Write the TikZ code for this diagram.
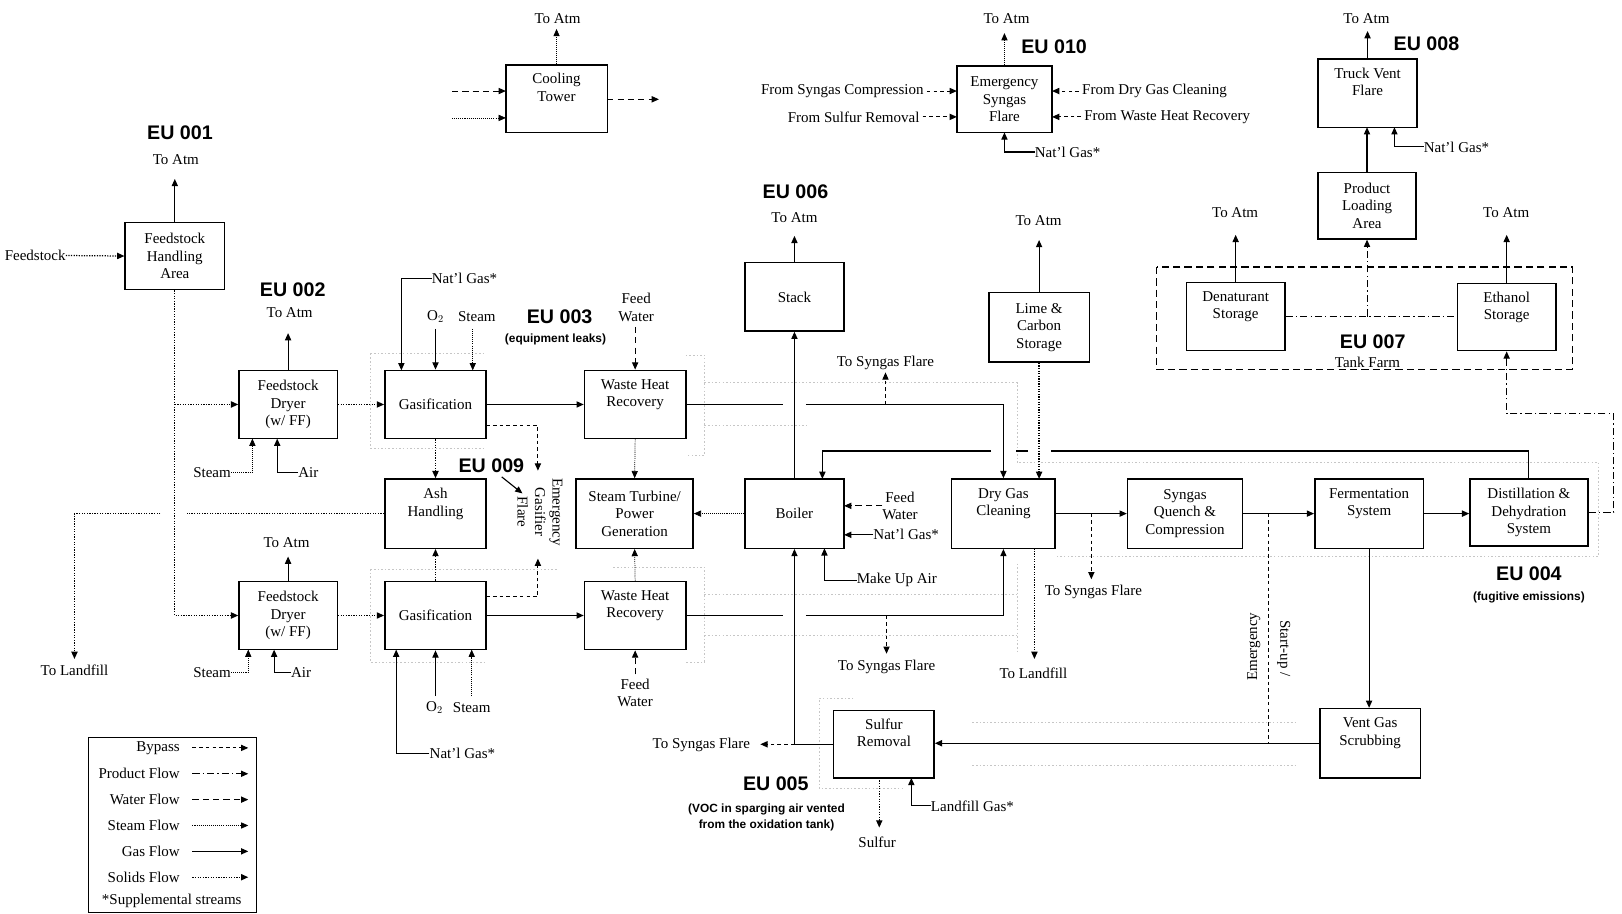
\documentclass[tikz,border=0pt]{standalone}
\usepackage{fontspec}
\setmainfont{Liberation Serif}
\newfontfamily\eufont{Liberation Sans}
\usetikzlibrary{arrows.meta}
\begin{document}
\begin{tikzpicture}[x=1pt,y=-1pt,
  box/.style={draw, line width=1.4pt, align=center, inner sep=0pt, font=\fontsize{14.5}{17}\selectfont},
  lbl/.style={font=\fontsize{14.5}{17}\selectfont, inner sep=0pt, align=center},
  eu/.style={font=\eufont\bfseries\fontsize{19}{22}\selectfont, inner sep=0pt},
  eusub/.style={font=\eufont\bfseries\fontsize{11.5}{16}\selectfont, inner sep=0pt, align=center},
  gas/.style={line width=1.1pt},
  solids/.style={line width=1.2pt, dash pattern=on 1.2pt off 1.3pt},
  steamf/.style={line width=0.7pt, dash pattern=on 1pt off 1pt},
  water/.style={line width=1pt, dash pattern=on 6pt off 4pt},
  bypass/.style={line width=1pt, dash pattern=on 3.5pt off 3pt},
  product/.style={line width=1pt, dash pattern=on 7pt off 3pt on 1.2pt off 3pt},
  tankfarm/.style={line width=1.3pt, dash pattern=on 7pt off 4pt},
  faint/.style={gray!45, line width=0.6pt, dash pattern=on 1.5pt off 2pt},
  arr/.style={-{Triangle[length=7pt,width=6pt]}}
]
\useasboundingbox (0,0) rectangle (1568,883);

% ---------- faint equipment-leak / fugitive boundaries
\draw[faint] (358,342) -- (470,342);
\draw[faint] (358,342) -- (358,433) -- (470,433);
\draw[faint] (358,550) -- (540,550);
\draw[faint] (358,550) -- (358,640) -- (470,640);
\draw[faint] (663,343) -- (681,343) -- (681,440) -- (663,440);
\draw[faint] (681,370) -- (983,370) -- (983,447) -- (1545,447) -- (1545,538) -- (1020,538);
\draw[faint] (681,411) -- (780,411);
\draw[faint] (593,548) -- (681,548) -- (681,640) -- (663,640);
\draw[faint] (681,575) -- (983,575);
\draw[faint] (681,614) -- (983,614);
\draw[faint] (983,545) -- (983,632);
\draw[faint] (825,675) -- (792,675) -- (792,762) -- (875,762);
\draw[faint] (940,698) -- (1255,698);
\draw[faint] (940,740) -- (1255,740);

% ---------- boxes
\node[box, minimum width=96pt, minimum height=65pt] (fha) at (169,247.5) {Feedstock\\Handling\\Area};
\node[box, minimum width=95pt, minimum height=66pt] (dry1) at (278.5,391) {Feedstock\\Dryer\\(w/ FF)};
\node[box, minimum width=95pt, minimum height=66pt] (dry2) at (278.5,595) {Feedstock\\Dryer\\(w/ FF)};
\node[box, minimum width=98pt, minimum height=66pt] (gas1) at (421,391) {Gasification};
\node[box, minimum width=98pt, minimum height=66pt] (gas2) at (421,595) {Gasification};
\node[box, minimum width=98pt, minimum height=67pt] (ash) at (421,496.5) {Ash\\Handling\\\strut};
\node[box, minimum width=98pt, minimum height=66pt] (whr1) at (614,391) {Waste Heat\\Recovery\\\strut};
\node[box, minimum width=98pt, minimum height=66pt] (whr2) at (614,595) {Waste Heat\\Recovery\\\strut};
\node[box, minimum width=113pt, minimum height=67pt] (stg) at (613.5,496.5) {Steam Turbine/\\Power\\Generation};
\node[box, minimum width=96pt, minimum height=66pt] (stack) at (768,287) {Stack};
\node[box, minimum width=96pt, minimum height=67pt] (boiler) at (768,496.5) {Boiler};
\node[box, minimum width=97pt, minimum height=67pt] (lime) at (1004.5,316.5) {Lime \&\\Carbon\\Storage};
\node[box, minimum width=100pt, minimum height=67pt] (dgc) at (970,496.5) {Dry Gas\\Cleaning\\\strut};
\node[box, minimum width=111pt, minimum height=67pt] (sqc) at (1145.5,496.5) {Syngas\\Quench \&\\Compression};
\node[box, minimum width=105pt, minimum height=67pt] (ferm) at (1323.5,496.5) {Fermentation\\System\\\strut};
\node[box, minimum width=114pt, minimum height=65pt] (dist) at (1478,495.5) {Distillation \&\\Dehydration\\System};
\node[box, minimum width=97pt, minimum height=67pt] (vgs) at (1324.5,718.5) {Vent Gas\\Scrubbing\\\strut};
\node[box, minimum width=97pt, minimum height=65pt] (sulf) at (854.5,719.5) {Sulfur\\Removal\\\strut};
\node[box, minimum width=98pt, minimum height=65pt] (cool) at (538,95.5) {Cooling\\Tower\\\strut};
\node[box, minimum width=92pt, minimum height=64pt] (esf) at (971,96) {Emergency\\Syngas\\Flare};
\node[box, minimum width=96pt, minimum height=66pt] (tvf) at (1322,90) {Truck Vent\\Flare\\\strut};
\node[box, minimum width=95pt, minimum height=64pt] (pla) at (1321.5,199) {Product\\Loading\\Area};
\node[box, minimum width=95pt, minimum height=66pt] (den) at (1194.5,306) {Denaturant\\Storage\\\strut};
\node[box, minimum width=95pt, minimum height=65pt] (eth) at (1456.5,306.5) {Ethanol\\Storage\\\strut};

% ---------- labels
\node[lbl] (feed) at (34,247) {Feedstock};
\node[eu] at (174,128) {EU 001};
\node[lbl] (atm1) at (170,154) {To Atm};
\node[eu] at (283,280) {EU 002};
\node[lbl] (atm2) at (280,302) {To Atm};
\node[lbl] (st1) at (205,457) {Steam};
\node[lbl] (air1) at (298,457) {Air};
\node[lbl] (atm3) at (277,525) {To Atm};
\node[lbl] (st2) at (205,650) {Steam};
\node[lbl] (air2) at (291,650) {Air};
\node[lbl] (landfill1) at (72,648) {To Landfill};
\node[lbl] (ng1) at (449,269) {Nat'l Gas*};
\node[lbl] (o2a) at (421,306) {O$_2$};
\node[lbl] (st3) at (461,306) {Steam};
\node[lbl] (o2b) at (420,684) {O$_2$};
\node[lbl] (st4) at (456,684) {Steam};
\node[lbl] (ng2) at (447,728) {Nat'l Gas*};
\node[eu] at (541,306) {EU 003};
\node[eusub] at (537,328) {(equipment leaks)};
\node[eu] at (475,450) {EU 009};
\node[lbl, rotate=-90] (egf) at (522,495) {Emergency\\Gasifier\\Flare};
\node[lbl] (fw1) at (615,297) {Feed\\Water};
\node[lbl] (fw2) at (614,670) {Feed\\Water};
\node[eu] at (769,185) {EU 006};
\node[lbl] (atm4) at (768,210) {To Atm};
\node[lbl] (sf1) at (856,351) {To Syngas Flare};
\node[lbl] (sf2) at (857,645) {To Syngas Flare};
\node[lbl] (fw3) at (870,489) {Feed\\Water};
\node[lbl] (ng3) at (876,517) {Nat'l Gas*};
\node[lbl] (mua) at (867,561) {Make Up Air};
\node[lbl] (atm5) at (1004,213) {To Atm};
\node[lbl] (sf3) at (1057,572) {To Syngas Flare};
\node[lbl] (landfill2) at (999,651) {To Landfill};
\node[lbl] (sf4) at (678,720) {To Syngas Flare};
\node[eu] at (750,758) {EU 005};
\node[eusub] at (741,790) {(VOC in sparging air vented\\from the oxidation tank)};
\node[lbl] (sulfur) at (848,814) {Sulfur};
\node[lbl] (lfg) at (940,779) {Landfill Gas*};
\node[lbl, rotate=90] (emg) at (1212,625) {Emergency};
\node[lbl, rotate=-90] (stu) at (1241,627) {Start-up /};
\node[eu] at (1478,555) {EU 004};
\node[eusub] at (1478,578) {(fugitive emissions)};
\node[lbl] (atm6) at (539,18) {To Atm};
\node[lbl] (atm7) at (973,18) {To Atm};
\node[eu] at (1019,45) {EU 010};
\node[lbl, anchor=east] (fsc) at (893,88) {From Syngas Compression};
\node[lbl, anchor=east] (fsr) at (889,113) {From Sulfur Removal};
\node[lbl, anchor=west] (fdg) at (1046,88) {From Dry Gas Cleaning};
\node[lbl, anchor=west] (fwh) at (1048,113) {From Waste Heat Recovery};
\node[lbl] (ngesf) at (1032,147) {Nat'l Gas*};
\node[lbl] (atm8) at (1321,18) {To Atm};
\node[eu] at (1379,42) {EU 008};
\node[lbl] (ngtf) at (1408,142) {Nat'l Gas*};
\node[lbl] (atm9) at (1194,206) {To Atm};
\node[lbl] (atm10) at (1456,206) {To Atm};
\node[eu] at (1327,330) {EU 007};
\node[lbl] at (1322,350) {Tank Farm};

% ---------- feedstock & dryers
\draw[solids,arr] (feed.east) -- (fha.west);
\draw[gas,arr] (fha.north) -- (169,173);
\draw[solids,arr] (fha.south) |- (dry2.west);
\draw[solids,arr] (169,391) -- (dry1.west);
\draw[solids] (ash.west) -- (181,496.5);
\draw[solids,arr] (155,496.5) -- (72,496.5) -- (72,637);
\draw[gas,arr] (dry1.north) -- (278.5,322);
\draw[steamf,arr] (st1.east) -| (244,424);
\draw[gas,arr] (air1.west) -| (268,424);
\draw[solids,arr] (dry1.east) -- (gas1.west);
\draw[gas,arr] (dry2.north) -- (278.5,538);
\draw[steamf,arr] (st2.east) -| (240,628);
\draw[gas,arr] (air2.west) -| (265,628);
\draw[solids,arr] (dry2.east) -- (gas2.west);

% ---------- gasifiers
\draw[gas,arr] (ng1.west) -| (388,358);
\draw[gas,arr] (421,318) -- (gas1.north);
\draw[steamf,arr] (457,318) -- (457,358);
\draw[gas,arr] (gas1.east) -- (whr1.west);
\draw[solids,arr] (gas1.south) -- (ash.north);
\draw[bypass,arr] (470,411) -- (520,411) -- (520,455);
\draw[gas,arr] (ng2.west) -| (383,628);
\draw[gas,arr] (421,673) -- (gas2.south);
\draw[steamf,arr] (456,673) -- (456,628);
\draw[solids,arr] (gas2.north) -- (ash.south);
\draw[bypass,arr] (470,577) -- (520,577) -- (520,540);
\draw[gas,arr] (gas2.east) -- (whr2.west);
\draw[gas,arr] (485,461) -- (505,477);

% ---------- waste heat recovery
\draw[water,arr] (614,316) -- (whr1.north);
\draw[steamf,arr] (whr1.south) -- (stg.north);
\draw[gas] (whr1.east) -- (757,391);
\draw[gas,arr] (779,391) -| (dgc.north);
\draw[bypass,arr] (856,391) -- (856,360);
\draw[water,arr] (614,652) -- (whr2.south);
\draw[steamf,arr] (whr2.north) -- (stg.south);
\draw[gas] (whr2.east) -- (757,595);
\draw[gas,arr] (779,595) -| (dgc.south);
\draw[bypass,arr] (857,595) -- (857,632);

% ---------- boiler & stack
\draw[gas,arr] (boiler.north) -- (stack.south);
\draw[gas,arr] (stack.north) -- (768,228);
\draw[steamf,arr] (boiler.west) -- (stg.east);
\draw[water,arr] (853,489) -- (816,489);
\draw[gas,arr] (ng3.west) -- (816,517);
\draw[gas,arr] (mua.west) -| (797,530);
\draw[gas,arr] (sulf.west) -| (boiler.south);
\draw[bypass,arr] (768,719.5) -- (735,719.5);
\draw[gas] (dist.north) |- (1016,436);
\draw[gas] (994,436) -- (982,436);
\draw[gas,arr] (958,436) -| (795,463);

% ---------- gas cleaning to fermentation
\draw[solids,arr] (lime.south) -- (1004.5,463);
\draw[gas,arr] (lime.north) -- (1004.5,232);
\draw[gas,arr] (dgc.east) -- (sqc.west);
\draw[bypass,arr] (1055,496.5) -- (1055,560);
\draw[solids,arr] (1000,530) -- (1000,637);
\draw[gas,arr] (sqc.east) -- (ferm.west);
\draw[gas,arr] (ferm.east) -- (ferm.east -| dist.west);
\draw[gas,arr] (ferm.south) -- (ferm.south |- vgs.north);
\draw[gas,arr] (vgs.west) -- (vgs.west -| sulf.east);
\draw[bypass] (1226,496.5) -- (1226,718.5);
\draw[solids,arr] (850,752) -- (850,800);
\draw[gas,arr] (lfg.west) -| (881,752);

% ---------- product side
\draw[product,arr] (dist.east) -- (1560,495.5) -- (1560,400) -- (1456.5,400) -- (eth.south);
\draw[tankfarm] (1118,258) rectangle (1520,357);
\draw[product] (den.east) -- (den.east -| eth.west);
\draw[product,arr] (1321.5,306) -- (pla.south);
\draw[gas,arr] (pla.north) -- (1321.5,123);
\draw[gas,arr] (tvf.north) -- (1322,30);
\draw[gas,arr] (ngtf.west) -| (1348,123);
\draw[gas,arr] (den.north) -- (1194.5,227);
\draw[gas,arr] (eth.north) -- (1456.5,227);

% ---------- cooling tower & flare
\draw[steamf,arr] (cool.north) -- (538,28);
\draw[water,arr] (437,88) -- (489,88);
\draw[steamf,arr] (437,114) -- (489,114);
\draw[water,arr] (587,96) -- (637,96);
\draw[steamf,arr] (esf.north) -- (971,32);
\draw[bypass,arr] ([xshift=3pt]fsc.east) -- (925,88);
\draw[bypass,arr] ([xshift=3pt]fsr.east) -- (925,113);
\draw[bypass,arr] ([xshift=-3pt]fdg.west) -- (1017,88);
\draw[bypass,arr] ([xshift=-3pt]fwh.west) -- (1017,113);
\draw[gas,arr] (ngesf.west) -| (971,128);

% ---------- legend
\draw[line width=1pt] (86,713) rectangle (248,882);
\node[lbl, anchor=east] (lg1) at (174,723) {Bypass};
\node[lbl, anchor=east] (lg2) at (174,748) {Product Flow};
\node[lbl, anchor=east] (lg3) at (174,773) {Water Flow};
\node[lbl, anchor=east] (lg4) at (174,798) {Steam Flow};
\node[lbl, anchor=east] (lg5) at (174,823) {Gas Flow};
\node[lbl, anchor=east] (lg6) at (174,848) {Solids Flow};
\node[lbl] at (166,871) {*Supplemental streams};
\draw[bypass,arr] (186,723) -- (240,723);
\draw[product,arr] (186,748) -- (240,748);
\draw[water,arr] (186,773) -- (240,773);
\draw[steamf,arr] (186,798) -- (240,798);
\draw[gas,arr] (186,823) -- (240,823);
\draw[solids,arr] (186,848) -- (240,848);
\end{tikzpicture}
\end{document}
